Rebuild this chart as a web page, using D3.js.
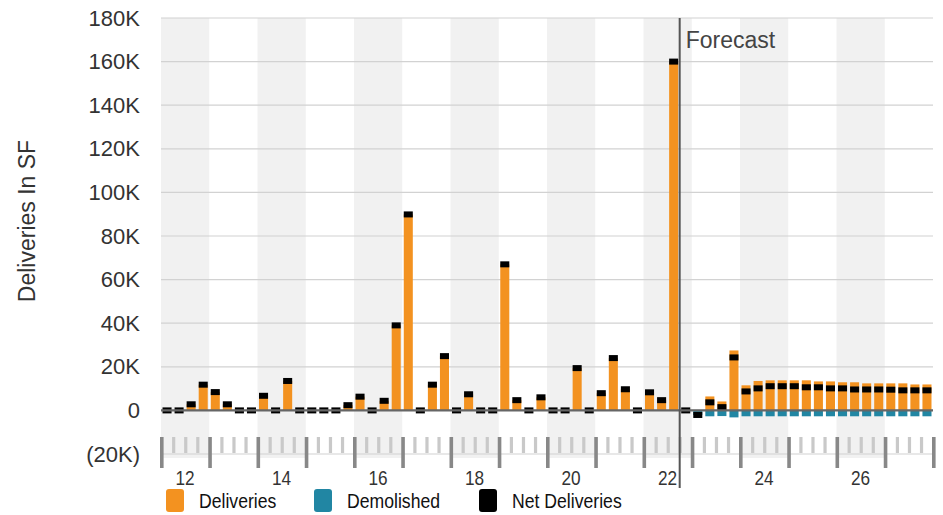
<!DOCTYPE html>
<html>
<head>
<meta charset="utf-8">
<script src="https://cdn.jsdelivr.net/npm/d3@7"></script>
<style>
  body { margin: 0; background: #fff; }
  text { font-family: "Liberation Sans", Arial, Helvetica, sans-serif; }
</style>
</head>
<body>
<div id="chart"></div>
<script>

// quarterly deliveries, in thousands of SF
var years = [2012, 2013, 2014, 2015, 2016, 2017, 2018, 2019, 2020, 2021, 2022, 2023, 2024, 2025, 2026, 2027];
var quarterNames = ["Q1", "Q2", "Q3", "Q4"];

var deliveries = [
  0, 0, 2.8, 11.8,
  8.4, 2.8, 0, 0,
  6.7, 0, 13.5, 0,
  0, 0, 0, 2.4,
  6.3, 0, 4.4, 39,
  89.9, 0, 11.8, 24.9,
  0, 7.4, 0, 0,
  67, 4.7, 0, 6.0,
  0, 0, 19.4, 0,
  7.9, 24, 9.7, 0,
  8.3, 4.7, 160, 0,
  0, 6.4, 4.1, 27.5,
  11.5, 13.5, 13.8, 13.8,
  13.8, 13.8, 13.3, 13.3,
  12.9, 12.9, 12.4, 12.4,
  12.4, 12.4, 11.9, 11.9
];

var demolished = [
  0, 0, 0, 0,
  0, 0, 0, 0,
  0, 0, 0, 0,
  0, 0, 0, 0,
  0, 0, 0, 0,
  0, 0, 0, 0,
  0, 0, 0, 0,
  0, 0, 0, 0,
  0, 0, 0, 0,
  0, 0, 0, 0,
  0, 0, 0, 0,
  2.1, 2.7, 2.6, 3.2,
  2.7, 2.7, 2.7, 2.7,
  2.7, 2.7, 2.7, 2.7,
  2.7, 2.7, 2.7, 2.7,
  2.7, 2.7, 2.7, 2.7
];

var netDeliveries = [
  0, 0, 2.8, 11.8,
  8.4, 2.8, 0, 0,
  6.7, 0, 13.5, 0,
  0, 0, 0, 2.4,
  6.3, 0, 4.4, 39,
  89.9, 0, 11.8, 24.9,
  0, 7.4, 0, 0,
  67, 4.7, 0, 6.0,
  0, 0, 19.4, 0,
  7.9, 24, 9.7, 0,
  8.3, 4.7, 160, 0,
  -2.1, 3.7, 1.5, 24.3,
  8.7, 10.1, 11.1, 11.1,
  11.1, 10.6, 10.6, 10.1,
  10.1, 9.6, 9.6, 9.6,
  9.5, 9.2, 9.2, 9.2
];

var yTicks = [-20, 0, 20, 40, 60, 80, 100, 120, 140, 160, 180];
var labelYears = [2012, 2014, 2016, 2018, 2020, 2022, 2024, 2026];
var forecastStart = "2022 Q4";
var legendItems = ["Deliveries", "Demolished", "Net Deliveries"];

var colors = {
  "Deliveries": "#f39220",
  "Demolished": "#2186a3",
  "Net Deliveries": "#000000"
};

var margin = { left: 161, right: 10, top: 18, bottom: 61 };

var quarters = [];
years.forEach(function (y) {
  quarterNames.forEach(function (q) { quarters.push(y + " " + q); });
});

var data = quarters.map(function (q, i) {
  return { q: q, del: deliveries[i], dem: demolished[i], net: netDeliveries[i] };
});

function deliveriesChart() {
  var chart = this;

  chart.width = 943 - margin.left - margin.right;
  chart.height = 515 - margin.top - margin.bottom;

  chart.svg = d3.select("#chart")
    .append("svg")
    .attr("width", 943)
    .attr("height", 515)
    .append("g")
    .attr("transform", "translate(" + margin.left + "," + margin.top + ")");

  chart.xScale = d3.scaleBand()
    .domain(quarters)
    .range([0, chart.width])
    .paddingInner(0.25)
    .paddingOuter(0.125);

  // continuous scale for year / quarter boundaries
  chart.tScale = d3.scaleLinear()
    .domain([years[0], years[years.length - 1] + 1])
    .range([0, chart.width]);

  chart.yScale = d3.scaleLinear()
    .domain([-20, 180])
    .range([436, 0]);

  var plotBottom = 440;

  // alternating year bands
  chart.svg.selectAll(".band")
    .data(years.filter(function (y, i) { return i % 2 === 0; }))
    .enter().append("rect")
    .attr("class", "band")
    .attr("x", function (d) { return chart.tScale(d); })
    .attr("width", function (d) { return chart.tScale(d + 1) - chart.tScale(d); })
    .attr("y", 0)
    .attr("height", plotBottom)
    .attr("fill", "#f1f1f1");

  // grid lines
  chart.svg.selectAll(".grid")
    .data(yTicks)
    .enter().append("line")
    .attr("class", "grid")
    .attr("x1", 0)
    .attr("x2", chart.width)
    .attr("y1", function (d) { return chart.yScale(d); })
    .attr("y2", function (d) { return chart.yScale(d); })
    .attr("stroke", "#d2d2d2")
    .attr("stroke-width", 1.2);

  // y axis labels
  var yAxis = d3.axisLeft(chart.yScale)
    .tickValues(yTicks)
    .tickSize(0)
    .tickPadding(21)
    .tickFormat(function (d) {
      if (d < 0) return "(" + (-d) + "K)";
      if (d === 0) return "0";
      return d + "K";
    });

  chart.svg.append("g")
    .attr("class", "axis")
    .call(yAxis)
    .call(function (g) { g.select(".domain").remove(); })
    .selectAll("text")
    .attr("fill", "#333")
    .style("font-family", "\"Liberation Sans\", Arial, sans-serif")
    .style("font-size", "22px");

  chart.svg.append("text")
    .attr("transform", "rotate(-90)")
    .attr("x", -203)
    .attr("y", -126)
    .style("text-anchor", "middle")
    .style("font-size", "23px")
    .attr("fill", "#333")
    .text("Deliveries In SF");

  // quarter ticks in the bottom strip
  var boundaries = d3.range(0, quarters.length + 1);
  var qScale = d3.scaleLinear().domain([0, quarters.length]).range([0, chart.width]);

  chart.svg.selectAll(".qtick")
    .data(boundaries.filter(function (k) { return k % 4 !== 0; }))
    .enter().append("rect")
    .attr("class", "qtick")
    .attr("x", function (d) { return qScale(d) - 1; })
    .attr("width", 3.2)
    .attr("y", 419)
    .attr("height", 16)
    .attr("fill", "#c9c9c9");

  chart.svg.selectAll(".ytick")
    .data(boundaries.filter(function (k) { return k % 4 === 0; }))
    .enter().append("rect")
    .attr("class", "ytick")
    .attr("x", function (d) { return qScale(d) - 1; })
    .attr("width", 3.6)
    .attr("y", 419)
    .attr("height", 31)
    .attr("fill", "#888");

  // year labels are set in a condensed face; squeeze horizontally
  chart.svg.selectAll(".yearLabel")
    .data(labelYears)
    .enter().append("text")
    .attr("class", "yearLabel")
    .attr("transform", function (d) { return "translate(" + chart.tScale(d + 0.5) + ",467) scale(0.82,1)"; })
    .style("text-anchor", "middle")
    .style("font-size", "21px")
    .attr("fill", "#333")
    .text(function (d) { return String(d).slice(2); });

  // bars
  chart.svg.selectAll(".del")
    .data(data).enter()
    .append("rect")
    .attr("class", "del")
    .attr("x", function (d) { return chart.xScale(d.q); })
    .attr("width", chart.xScale.bandwidth())
    .attr("y", function (d) { return chart.yScale(d.del); })
    .attr("height", function (d) { return chart.yScale(0) - chart.yScale(d.del); })
    .attr("fill", colors["Deliveries"]);

  chart.svg.selectAll(".dem")
    .data(data).enter()
    .append("rect")
    .attr("class", "dem")
    .attr("x", function (d) { return chart.xScale(d.q); })
    .attr("width", chart.xScale.bandwidth())
    .attr("y", chart.yScale(0))
    .attr("height", function (d) { return chart.yScale(-d.dem) - chart.yScale(0); })
    .attr("fill", colors["Demolished"]);

  chart.svg.selectAll(".net")
    .data(data).enter()
    .append("rect")
    .attr("class", "net")
    .attr("x", function (d) { return chart.xScale(d.q); })
    .attr("width", chart.xScale.bandwidth())
    .attr("y", function (d) { return chart.yScale(d.net) - 3; })
    .attr("height", 6)
    .attr("fill", colors["Net Deliveries"]);

  // zero line
  chart.svg.append("line")
    .attr("x1", 0)
    .attr("x2", chart.width)
    .attr("y1", chart.yScale(0))
    .attr("y2", chart.yScale(0))
    .attr("stroke", "#666")
    .attr("stroke-width", 2.4);

  // forecast marker
  var fx = chart.xScale(forecastStart) - chart.xScale.step() * chart.xScale.paddingInner() / 2;
  chart.svg.append("line")
    .attr("x1", fx)
    .attr("x2", fx)
    .attr("y1", 0)
    .attr("y2", 470)
    .attr("stroke", "#555")
    .attr("stroke-width", 2);

  chart.svg.append("text")
    .attr("x", fx + 6)
    .attr("y", 30)
    .style("font-size", "23px")
    .attr("fill", "#444")
    .text("Forecast");

  // legend
  var legendX = [5, 153, 318];
  var legend = chart.svg.selectAll(".legend")
    .data(legendItems).enter()
    .append("g")
    .attr("class", "legend")
    .attr("transform", function (d, i) { return "translate(" + legendX[i] + ",471)"; });

  legend.append("rect")
    .attr("width", 18)
    .attr("height", 23)
    .attr("rx", 3)
    .attr("fill", function (d) { return colors[d]; });

  legend.append("text")
    .attr("transform", "translate(33,19) scale(0.84,1)")
    .style("font-size", "21px")
    .attr("fill", "#111")
    .text(function (d) { return d; });
}

deliveriesChart();

</script>
</body>
</html>
